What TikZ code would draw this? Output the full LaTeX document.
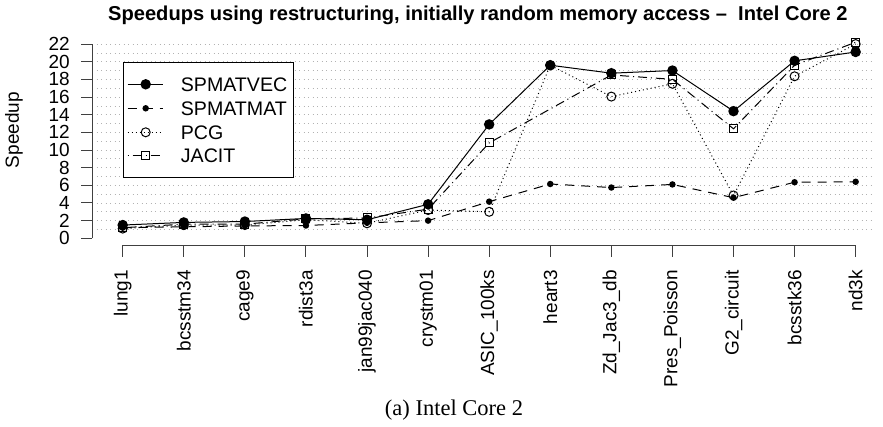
\documentclass[tikz,border=0pt]{standalone}
\usepackage{fontspec}
\setmainfont{Liberation Sans}
\newfontfamily\capserif{Liberation Serif}
\begin{document}
\begin{tikzpicture}[x=1pt,y=1pt,
  axisline/.style={line width=1pt, draw=black!75},
  gridrow/.style={draw=black!30, line width=0.7pt, dash pattern=on 0.7pt off 3.8pt},
  vecline/.style={line width=1pt},
  matline/.style={line width=1pt, dash pattern=on 9pt off 7pt},
  pcgline/.style={line width=1pt, dash pattern=on 1pt off 3pt},
  jacline/.style={line width=1pt, dash pattern=on 1pt off 4pt on 9pt off 4pt},
  vecmark/.style={circle, fill=black, inner sep=0pt, minimum size=10.5pt},
  matmark/.style={circle, fill=black, inner sep=0pt, minimum size=6.5pt},
  pcgmark/.style={circle, draw=black, line width=1pt, inner sep=0pt, minimum size=9pt},
  jacmark/.style={rectangle, draw=black, line width=1pt, inner sep=0pt, minimum size=8pt},
  lab/.style={font=\fontsize{19}{19}\selectfont, inner sep=0pt},
  legtext/.style={font=\fontsize{19.6}{20}\selectfont, inner sep=0pt},
]
\useasboundingbox (0,0) rectangle (883,-426);
\fill[white] (0,0) rectangle (883,-426);

% title
\node[anchor=west, font=\fontsize{20.1}{20}\selectfont\bfseries, inner sep=0pt] (title) at (108,-15)
  {Speedups using restructuring, initially random memory access \textendash\ \ Intel Core 2};

% horizontal dotted grid
\foreach \v in {1,...,22}
  \draw[gridrow] (96.7,{-238.3+8.83*\v}) -- (873,{-238.3+8.83*\v});

% y axis
\draw[axisline] (92,-238.3) -- (92,{-238.3+8.83*22});
\foreach \v in {0,2,...,22} {
  \draw[axisline] (81,{-238.3+8.83*\v}) -- (92,{-238.3+8.83*\v});
  \node[lab, anchor=east] (ytick\v) at (70,{-238.3+8.83*\v}) {\v};
}
\node[lab, rotate=90] (ylabel) at (14,-130) {Speedup};

% x axis
\draw[axisline] (122.7,-245) -- (855.7,-245);
\foreach \name [count=\i from 0] in {lung1,bcsstm34,cage9,rdist3a,jan99jac040,crystm01,ASIC\_100ks,heart3,Zd\_Jac3\_db,Pres\_Poisson,G2\_circuit,bcsstk36,nd3k} {
  \draw[axisline] ({122.7+61.08*\i},-245) -- ({122.7+61.08*\i},-256.7);
  \node[lab, rotate=90, anchor=east] (xtick\i) at ({122.7+61.08*\i},-270) {\name};
}

% data
\begin{scope}[shift={(122.7pt,-238.3pt)}, x=61.08pt, y=8.83pt]
  \foreach \v [count=\i from 0] in {1.5,1.8,1.9,2.25,2.1,3.85,12.9,19.6,18.7,19.0,14.4,20.1,21.1}
    \coordinate (vec\i) at (\i,\v);
  \foreach \v [count=\i from 0] in {1.2,1.3,1.4,1.45,1.75,2.0,4.15,6.15,5.75,6.1,4.6,6.35,6.4}
    \coordinate (mat\i) at (\i,\v);
  \foreach \v [count=\i from 0] in {1.1,1.5,1.5,2.1,1.7,3.2,3.0,19.6,16.05,17.5,4.85,18.35,22.0}
    \coordinate (pcg\i) at (\i,\v);
  \foreach \i/\v in {0/1.2,1/1.6,2/1.6,3/2.2,4/2.3,5/3.3,6/10.8,8/18.5,9/18.0,10/12.4,11/19.6,12/22.2}
    \coordinate (jac\i) at (\i,\v);

  \draw[vecline] (vec0) \foreach \i in {1,...,12} { -- (vec\i) };
  \foreach \i in {0,...,12} \node[vecmark] (vecm\i) at (vec\i) {};

  \draw[matline] (mat0) \foreach \i in {1,...,12} { -- (mat\i) };
  \foreach \i in {0,...,12} \node[matmark] (matm\i) at (mat\i) {};

  \draw[pcgline] (pcg0) \foreach \i in {1,...,12} { -- (pcg\i) };
  \foreach \i in {0,...,12} \node[pcgmark] (pcgm\i) at (pcg\i) {};

  \draw[jacline] (jac0) \foreach \i in {1,2,3,4,5,6,8,9,10,11,12} { -- (jac\i) };
  \foreach \i in {0,1,2,3,4,5,6,8,9,10,11,12} \node[jacmark] (jacm\i) at (jac\i) {};
\end{scope}

% legend
\node[draw=black, fill=white, line width=1pt, anchor=north west, minimum width=170.6pt, minimum height=115.6pt, inner sep=0pt] (legend) at (122.7,-61.7) {};
\foreach \y/\ls/\ms/\txt [count=\k] in {-84.3/vecline/vecmark/SPMATVEC, -108.3/matline/matmark/SPMATMAT, -132.3/pcgline/pcgmark/PCG, -155.7/jacline/jacmark/JACIT} {
  \coordinate (lga\k) at (127.7,\y);
  \coordinate (lgb\k) at (162.7,\y);
  \draw[\ls] (lga\k) -- (lgb\k);
  \node[\ms] (lgm\k) at (145.7,\y) {};
  \node[legtext, anchor=west] (lgt\k) at (180.7,\y) {\txt};
}

% caption
\node[font=\capserif\fontsize{22.5}{23}\selectfont, inner sep=0pt] (caption) at (454,-410) {(a) Intel Core 2};
\end{tikzpicture}
\end{document}
